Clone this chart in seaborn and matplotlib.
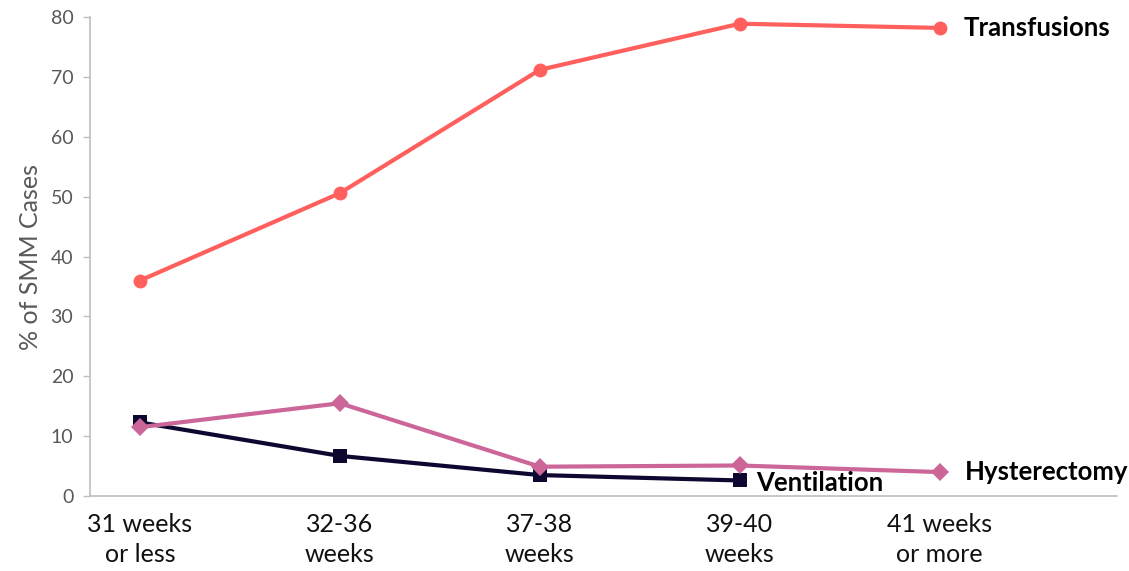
import matplotlib
matplotlib.use("Agg")
import matplotlib.pyplot as plt
import seaborn as sns
import pandas as pd
import numpy as np

categories = ["31 weeks\nor less", "32-36\nweeks", "37-38\nweeks", "39-40\nweeks", "41 weeks\nor more"]
transfusions = [36.0, 50.6, 71.2, 78.9, 78.2]
ventilation = [12.3, 6.7, 3.5, 2.6, np.nan]
hysterectomy = [11.5, 15.5, 4.9, 5.1, 4.0]
y_ticks = [0, 10, 20, 30, 40, 50, 60, 70, 80]

sns.set_theme(style="white")
plt.rcParams["font.family"] = ["Lato", "DejaVu Sans"]

fig = plt.figure(figsize=(11.29, 5.71), dpi=100)
ax = fig.add_axes([0.0797, 0.1313, 0.9093, 0.8387])

x = np.arange(len(categories))
series = [
    ("Transfusions", transfusions, "#ff5f5d", "o", 10),
    ("Ventilation", ventilation, "#0c0830", "s", 10),
    ("Hysterectomy", hysterectomy, "#cc6699", "D", 9),
]
for name, vals, color, marker, ms in series:
    df = pd.DataFrame({"x": x, "y": vals}).dropna()
    sns.lineplot(data=df, x="x", y="y", ax=ax, color=color, marker=marker,
                 markersize=ms, markeredgewidth=0, linewidth=3, zorder=3)

ax.set_xlim(-0.25, 4.885)
ax.set_ylim(0, 80)
ax.set_yticks(y_ticks)
ax.set_yticklabels([str(t) for t in y_ticks], fontsize=14, color="#595959")
ax.set_xticks(x)
ax.set_xticklabels(categories, fontsize=18, color="#111111", linespacing=1.4)
ax.tick_params(axis="x", length=0, pad=12)
ax.tick_params(axis="y", length=5, width=1, color="#bfbfbf", pad=7, left=True)
ax.set_xlabel("")
ax.set_ylabel("% of SMM Cases", fontsize=18, color="#595959", labelpad=6)

for side in ["top", "right"]:
    ax.spines[side].set_visible(False)
for side in ["left", "bottom"]:
    ax.spines[side].set_color("#bfbfbf")
    ax.spines[side].set_linewidth(1.2)

ax.annotate("Transfusions", xy=(4, 78.2), xytext=(17, 0), textcoords="offset points",
            fontsize=18.5, fontweight="bold", color="black", va="center", ha="left")
ax.annotate("Hysterectomy", xy=(4, 4.0), xytext=(18, 0), textcoords="offset points",
            fontsize=18.5, fontweight="bold", color="black", va="center", ha="left")
ax.annotate("Ventilation", xy=(3, 2.6), xytext=(12, -1.5), textcoords="offset points",
            fontsize=18.5, fontweight="bold", color="black", va="center", ha="left")

fig.savefig("out.png", dpi=100)
